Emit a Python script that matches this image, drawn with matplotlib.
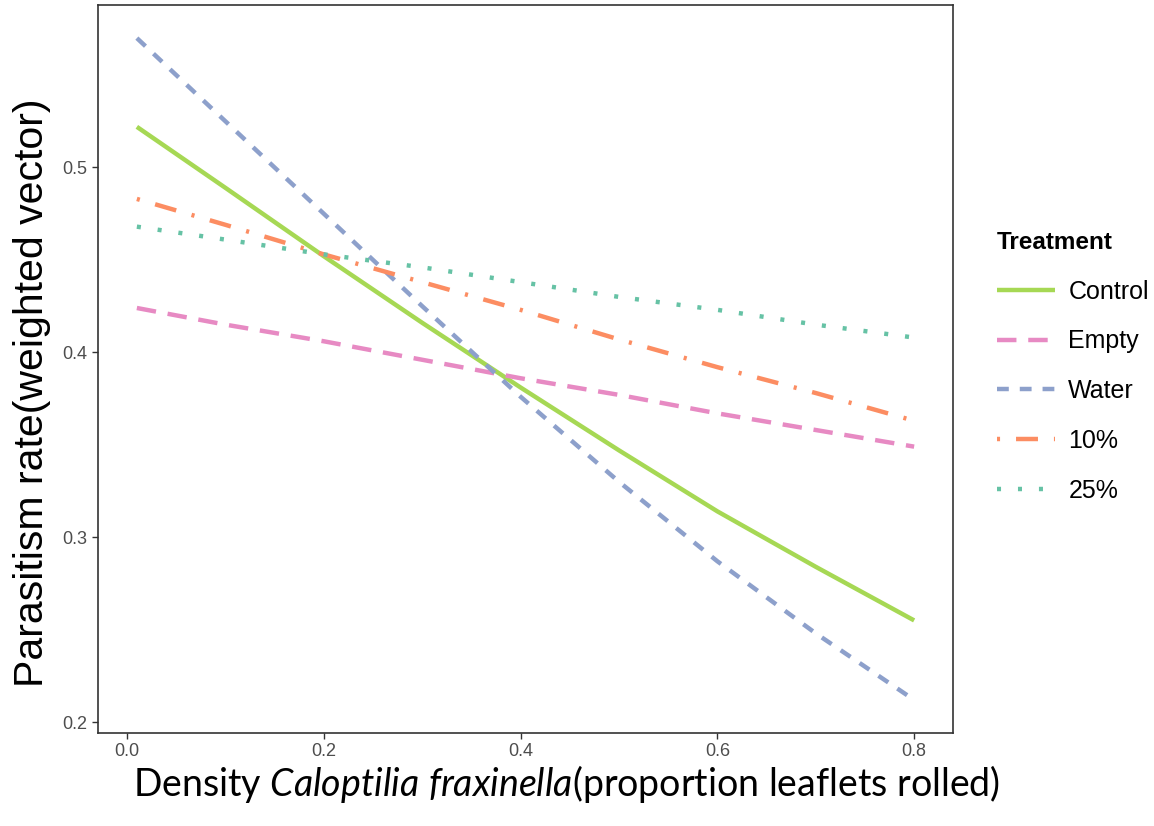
import matplotlib
matplotlib.use("Agg")
import matplotlib.pyplot as plt

# ----------------------------------------------------------------------
#  Data
# ----------------------------------------------------------------------
density = [0.01, 0.1, 0.2, 0.3, 0.4, 0.5, 0.6, 0.7, 0.8]

control = [0.522, 0.489, 0.452, 0.416, 0.381, 0.347, 0.314, 0.284, 0.255]
empty = [0.424, 0.415, 0.406, 0.396, 0.386, 0.377, 0.367, 0.358, 0.349]
water = [0.570, 0.525, 0.475, 0.425, 0.376, 0.330, 0.287, 0.248, 0.212]
ten_pct = [0.483, 0.469, 0.453, 0.438, 0.423, 0.407, 0.392, 0.378, 0.363]
twentyfive_pct = [0.468, 0.461, 0.453, 0.446, 0.438, 0.430, 0.423, 0.415, 0.408]

treatments = ["Control", "Empty", "Water", "10%", "25%"]
colors = ["#A6D854", "#E78AC3", "#8DA0CB", "#FC8D62", "#66C2A5"]

x_ticks = [0.0, 0.2, 0.4, 0.6, 0.8]
y_ticks = [0.2, 0.3, 0.4, 0.5]

# dash patterns in points (ggplot-ish linetypes)
dashes = [
    None,                       # solid
    (14.0, 8.5),                # long dash
    (8.5, 7.9),                 # dashed
    (2.2, 11.5, 15.8, 11.5),    # dot-dash
    (2.9, 12.2),                # dotted
]

plt.rcParams["font.family"] = ["Liberation Sans", "DejaVu Sans"]
plt.rcParams["lines.scale_dashes"] = False
plt.rcParams["mathtext.fontset"] = "custom"
plt.rcParams["mathtext.it"] = "Lato:italic"
plt.rcParams["mathtext.rm"] = "Lato"

fig = plt.figure(figsize=(11.54, 8.26), dpi=100)
ax = fig.add_axes([98 / 1154, 1 - 733 / 826, (953 - 98) / 1154, (733 - 5) / 826])

series = [control, empty, water, ten_pct, twentyfive_pct]
for name, vals, col, ds in zip(treatments, series, colors, dashes):
    line, = ax.plot(density, vals, color=col, lw=3.2, label=name,
                    solid_capstyle="butt", dash_capstyle="butt",
                    solid_joinstyle="round")
    if ds is not None:
        line.set_dashes(ds)

# ggplot default 5% expansion
xr = max(density) - min(density)
ymin = min(min(s) for s in series)
ymax = max(max(s) for s in series)
yr = ymax - ymin
ax.set_xlim(min(density) - 0.05 * xr, max(density) + 0.05 * xr)
ax.set_ylim(ymin - 0.05 * yr, ymax + 0.05 * yr)

ax.set_xticks(x_ticks)
ax.set_xticklabels([f"{v:.1f}" for v in x_ticks])
ax.set_yticks(y_ticks)
ax.set_yticklabels([f"{v:.1f}" for v in y_ticks])
ax.tick_params(direction="out", length=4, width=1.0, colors="#333333",
               labelcolor="#4D4D4D", labelsize=13)
for sp in ax.spines.values():
    sp.set_color("#333333")
    sp.set_linewidth(1.2)

ax.set_ylabel("Parasitism rate(weighted vector)", fontsize=29.5, labelpad=8)
ax.yaxis.label.set_y(0.467)
fig.text(567 / 1154, 1 - 784 / 826,
         r"Density $\mathit{Caloptilia\ fraxinella}$(proportion leaflets rolled)",
         fontsize=27, family="Lato", ha="center", va="center")

leg = ax.legend(title="Treatment", loc="upper left",
                bbox_to_anchor=(997 / 1154, 1 - 231 / 826),
                bbox_transform=fig.transFigure, frameon=False,
                fontsize=18, title_fontproperties={"weight": "bold", "size": 17.5},
                handlelength=2.3, handletextpad=0.55, labelspacing=1.03,
                borderpad=0, borderaxespad=0, alignment="left")

plt.savefig("out.png", dpi=100)
